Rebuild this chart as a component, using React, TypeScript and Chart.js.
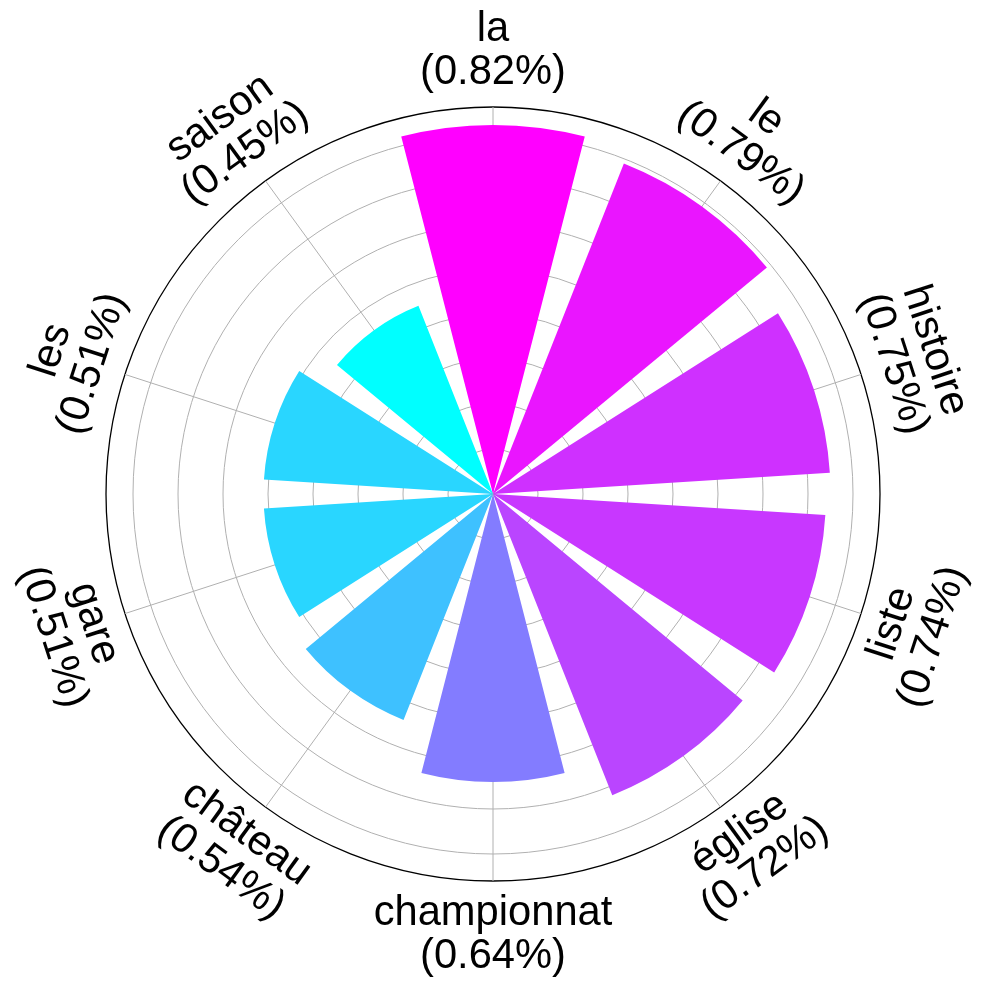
import React, { useEffect, useRef } from 'react';
import { Chart, registerables } from 'chart.js';

Chart.register(...registerables);

// ---- data ----
const categories: string[] = ['la', 'le', 'histoire', 'liste', 'église', 'championnat', 'château', 'gare', 'les', 'saison'];
const shares: number[] = [0.82, 0.79, 0.75, 0.74, 0.72, 0.64, 0.54, 0.51, 0.51, 0.45];
const radialTicks: number[] = [0, 0.1, 0.2, 0.3, 0.4, 0.5, 0.6, 0.7, 0.8];
const radialMax = 0.86;

// ---- styling helpers ----
const BAR_FRACTION = 0.8;
const coolColor = (v: number, lo: number, hi: number) => {
  const t = hi === lo ? 1 : (v - lo) / (hi - lo);
  return `rgb(${Math.round(255 * t)}, ${Math.round(255 * (1 - t))}, 255)`;
};

function buildArcs() {
  const n = categories.length;
  const slot = 360 / n;
  const bar = slot * BAR_FRACTION;
  const gap = slot - bar;
  const lo = Math.min(...shares);
  const hi = Math.max(...shares);
  const values: number[] = [0];
  const angles: number[] = [360 - bar / 2];
  const colors: string[] = ['rgba(0,0,0,0)'];
  shares.forEach((v, i) => {
    values.push(v);
    angles.push(bar);
    colors.push(coolColor(v, lo, hi));
    if (i < n - 1) {
      values.push(0);
      angles.push(gap);
      colors.push('rgba(0,0,0,0)');
    }
  });
  return { values, angles, colors };
}

const FONT = '41.7px "Liberation Sans", Arial, Helvetica, sans-serif';

const rotatedLabels = {
  id: 'rotatedLabels',
  afterDraw(chart: any) {
    const scale = chart.scales.r;
    const ctx = chart.ctx;
    const n = categories.length;
    ctx.save();
    ctx.font = FONT;
    ctx.fillStyle = '#000';
    ctx.textAlign = 'center';
    ctx.textBaseline = 'alphabetic';
    categories.forEach((cat, i) => {
      const p = scale.getPointPosition(i, scale.drawingArea + 55);
      const deg = (i * 360) / n;
      let rot = deg;
      if (deg > 90 && deg < 270) rot = deg - 180;
      else if (deg >= 270) rot = deg - 360;
      ctx.save();
      ctx.translate(p.x, p.y);
      ctx.rotate((rot * Math.PI) / 180);
      ctx.fillText(cat, 0, -11);
      ctx.fillText(`(${shares[i].toFixed(2)}%)`, 0, 32);
      ctx.restore();
    });
    ctx.restore();
  },
};

export default function App() {
  const ref = useRef<HTMLCanvasElement | null>(null);
  useEffect(() => {
    if (!ref.current) return;
    const { values, angles, colors } = buildArcs();
    const chart = new Chart(ref.current, {
      type: 'polarArea',
      data: {
        labels: categories,
        datasets: [
          {
            data: values,
            backgroundColor: colors,
            borderWidth: 0,
            angle: (c: any) => angles[c.dataIndex],
          } as any,
        ],
      },
      options: {
        responsive: false,
        animation: false,
        layout: { padding: { left: 106, right: 107, top: 107, bottom: 109 } },
        plugins: { legend: { display: false }, tooltip: { enabled: false } },
        scales: {
          r: {
            min: 0,
            max: radialMax,
            startAngle: 0,
            ticks: { display: false },
            afterBuildTicks: (scale: any) => {
              scale.ticks = [...radialTicks, radialMax].map((v) => ({ value: v }));
            },
            grid: {
              circular: true,
              color: (c: any) => (c.tick && c.tick.value >= radialMax - 1e-9 ? '#000000' : '#b0b0b0'),
              lineWidth: (c: any) => (c.tick && c.tick.value >= radialMax - 1e-9 ? 1.3 : 1),
            },
            angleLines: { display: true, color: '#b0b0b0', lineWidth: 1 },
            pointLabels: { display: false },
          } as any,
        },
      },
      plugins: [rotatedLabels],
    });
    return () => chart.destroy();
  }, []);
  return (
    <div style={{ position: 'fixed', left: 0, top: 0, width: 987, height: 990, background: '#fff' }}>
      <canvas ref={ref} width={987} height={990} style={{ display: 'block' }} />
    </div>
  );
}
